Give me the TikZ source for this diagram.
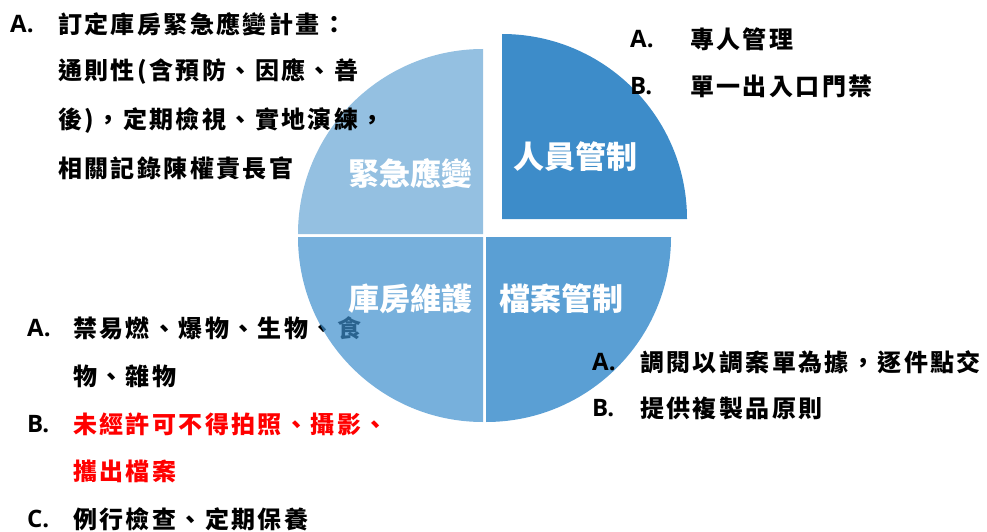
\documentclass[tikz,border=0pt]{standalone}
\usepackage{fontspec}
\setmainfont{Noto Sans CJK TC}
\newfontfamily\bodyfont[LetterSpace=10]{Noto Sans CJK TC}
\newfontfamily\labelfont{Noto Sans CJK TC}
\newfontfamily\markfont{Open Sans}
\definecolor{cTR}{HTML}{3D8CC9}
\definecolor{cBR}{HTML}{5A9FD4}
\definecolor{cBLbase}{HTML}{3D8ECD}
\definecolor{cTL}{HTML}{94C0E1}
\definecolor{redtxt}{HTML}{FF0000}
\tikzset{
  txt/.style={anchor=west, inner sep=0pt, font=\bodyfont\bfseries\fontsize{24}{28}\selectfont, text=black},
  itemmark/.style={anchor=west, inner sep=0pt, font=\markfont\bfseries\fontsize{24}{28}\selectfont, text=black},
  lbl/.style={inner sep=0pt, font=\labelfont\bfseries\fontsize{31}{34}\selectfont, text=white}
}
\begin{document}
\begin{tikzpicture}[x=1pt,y=-1pt]
\useasboundingbox (0,0) rectangle (987,532);
% bottom-left text (lies under the pie)
\node[itemmark] (blA) at (27,328) {A.};
\node[txt] (bl1) at (73,328) {禁易燃、爆物、生物、食};
\node[txt] (bl2) at (73,376) {物、雜物};
\node[itemmark] (blB) at (27,424) {B.};
\node[txt,text=redtxt] (bl3) at (73,424) {未經許可不得拍照、攝影、};
\node[txt,text=redtxt] (bl4) at (73,471) {攜出檔案};
\node[itemmark] (blC) at (27,519) {C.};
\node[txt] (bl5) at (73,519) {例行檢查、定期保養};
% pie
\fill[cTL] (483,234) -- ++(-185,0) arc[start angle=180,end angle=270,radius=185] -- cycle;
\fill[cBLbase,opacity=0.7] (483,237) -- ++(-185,0) arc[start angle=180,end angle=90,radius=185] -- cycle;
\fill[cBR] (486,237) -- ++(185,0) arc[start angle=0,end angle=90,radius=185] -- cycle;
\fill[cTR] (502,219) -- ++(185,0) arc[start angle=0,end angle=-90,radius=185] -- cycle;
\node[lbl] (sTR) at (575,157) {人員管制};
\node[lbl] (sTL) at (410,174) {緊急應變};
\node[lbl] (sBL) at (410,299) {庫房維護};
\node[lbl] (sBR) at (561,299) {檔案管制};
% top-left text
\node[itemmark] (tlA) at (10,24) {A.};
\node[txt] (tl1) at (58,24) {訂定庫房緊急應變計畫：};
\node[txt] (tl2) at (58,72) {通則性(含預防、因應、善};
\node[txt] (tl3) at (58,121) {後)，定期檢視、實地演練，};
\node[txt] (tl4) at (58,168) {相關記錄陳權責長官};
% top-right text
\node[itemmark] (trA) at (630,39) {A.};
\node[txt] (tr1) at (690,39) {專人管理};
\node[itemmark] (trB) at (630,86) {B.};
\node[txt] (tr2) at (690,86) {單一出入口門禁};
% bottom-right text
\node[itemmark] (brA) at (592,362) {A.};
\node[txt] (br1) at (640,362) {調閱以調案單為據，逐件點交};
\node[itemmark] (brB) at (592,408) {B.};
\node[txt] (br2) at (640,408) {提供複製品原則};
\end{tikzpicture}
\end{document}
